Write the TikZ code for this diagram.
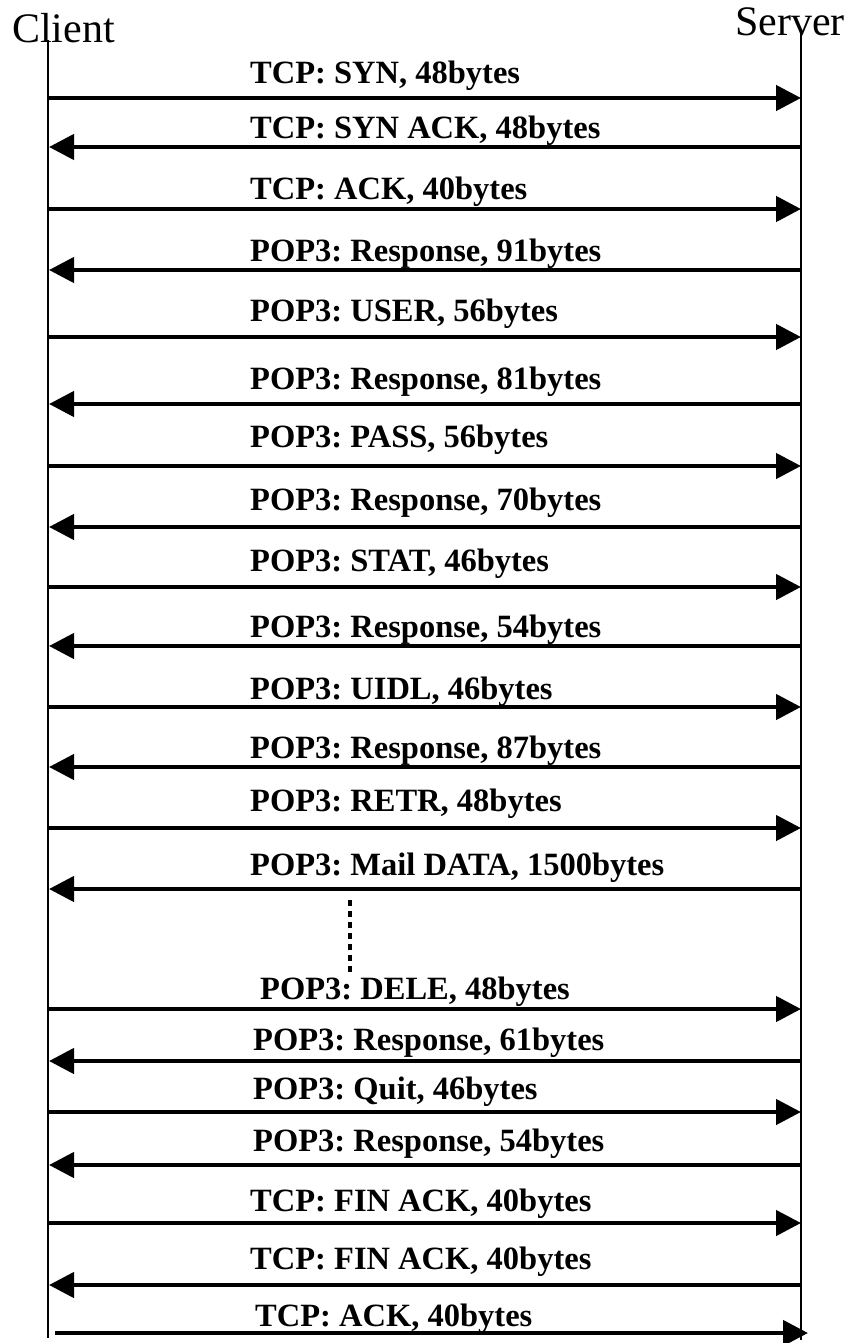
\documentclass[tikz,border=0pt]{standalone}
\usepackage{fontspec}
\setmainfont{Liberation Serif}
\usetikzlibrary{arrows.meta}
\frenchspacing
\begin{document}
\begin{tikzpicture}[x=1pt,y=-1pt,
  lifeline/.style={line width=1.5pt},
  msg/.style={line width=4.5pt,-{Triangle[length=25pt,width=25pt]}},
  msglabel/.style={anchor=base west,inner sep=0pt,font=\fontsize{32.5}{36}\selectfont\bfseries\frenchspacing},
  actor/.style={anchor=base west,inner sep=0pt,font=\fontsize{42}{46}\selectfont},
  gap/.style={line width=4pt,dash pattern=on 6pt off 5pt}]
\useasboundingbox (0,0) rectangle (848,1343);
\node[actor] (client) at (12,43) {Client};
\node[actor] (server) at (735,36) {Server};
\coordinate (ctop) at (48,40);
\coordinate (cbot) at (48,1338);
\coordinate (stop) at (801,33);
\coordinate (sbot) at (801,1340);
\draw[lifeline] (ctop) -- (cbot);
\draw[lifeline] (stop) -- (sbot);
% messages: index / arrow y / direction start / end / label x / label baseline / text
\foreach \i/\y/\a/\b/\lx/\ly/\t in {
  1/98/c/s/250/84/{TCP: SYN, 48bytes},
  2/147/s/c/250/139/{TCP: SYN ACK, 48bytes},
  3/209/c/s/250/200/{TCP: ACK, 40bytes},
  4/270/s/c/250/261/{POP3: Response, 91bytes},
  5/337/c/s/250/321/{POP3: USER, 56bytes},
  6/404/s/c/250/389/{POP3: Response, 81bytes},
  7/466/c/s/250/447/{POP3: PASS, 56bytes},
  8/527/s/c/250/510/{POP3: Response, 70bytes},
  9/587/c/s/250/571/{POP3: STAT, 46bytes},
  10/646/s/c/250/637/{POP3: Response, 54bytes},
  11/707/c/s/250/699/{POP3: UIDL, 46bytes},
  12/767/s/c/250/758/{POP3: Response, 87bytes},
  13/828/c/s/250/811/{POP3: RETR, 48bytes},
  14/889/s/c/250/875/{POP3: Mail DATA, 1500bytes},
  15/1009/c/s/260/999/{POP3: DELE, 48bytes},
  16/1061/s/c/253/1050/{POP3: Response, 61bytes},
  17/1112/c/s/253/1099/{POP3: Quit, 46bytes},
  18/1165/s/c/253/1151/{POP3: Response, 54bytes},
  19/1223/c/s/250/1211/{TCP: FIN ACK, 40bytes},
  20/1285/s/c/250/1269/{TCP: FIN ACK, 40bytes}}{
  \coordinate (c\i) at (49,\y);
  \coordinate (s\i) at (801,\y);
  \node[msglabel] (l\i) at (\lx,\ly) {\t};
  \draw[msg] (\a\i) -- (\b\i);
}
\coordinate (c21) at (55,1333);
\coordinate (s21) at (808,1333);
\node[msglabel] (l21) at (255,1326) {TCP: ACK, 40bytes};
\draw[msg] (c21) -- (s21);
\coordinate (g1) at (350,900);
\coordinate (g2) at (350,976);
\draw[gap] (g1) -- (g2);
\end{tikzpicture}
\end{document}
